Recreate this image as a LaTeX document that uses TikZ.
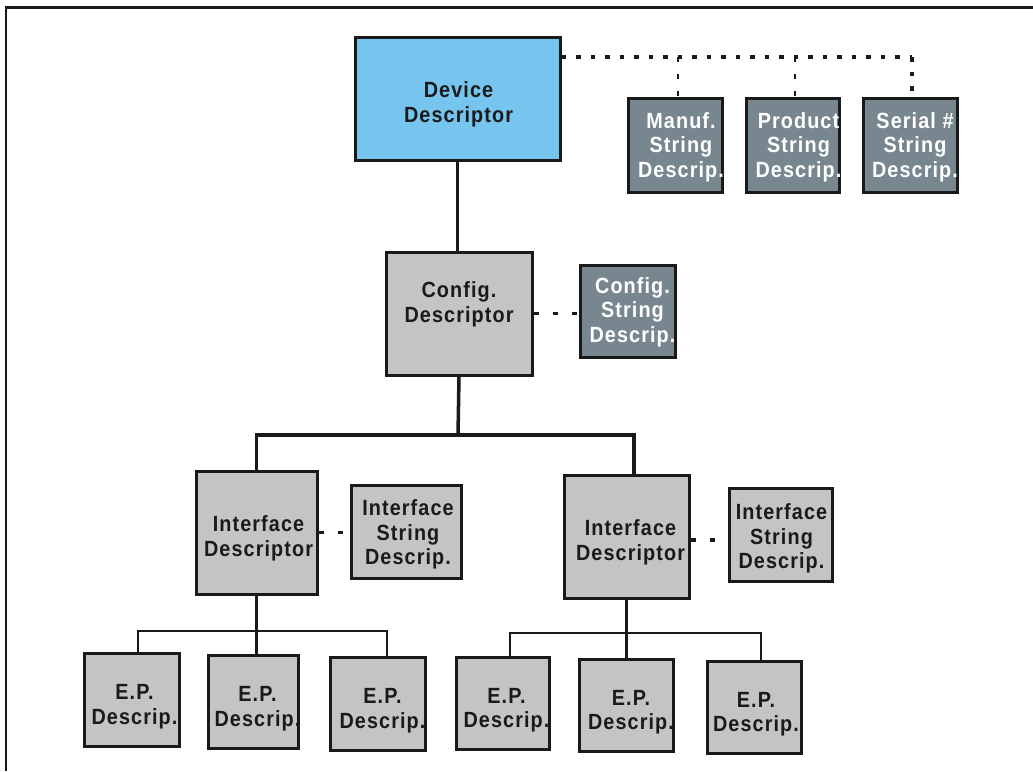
\documentclass[tikz,border=0pt]{standalone}
\usepackage{fontspec}
\setmainfont{Liberation Sans}[LetterSpace=5, FakeStretch=0.9]
\definecolor{devblue}{HTML}{75C5EF}
\definecolor{slate}{HTML}{78878F}
\definecolor{lightgrey}{HTML}{C4C4C4}
\definecolor{ink}{HTML}{1A1A1A}
\newcommand\lblfont{\fontsize{22}{24.5}\selectfont\bfseries}
\tikzset{
  box/.style={draw=ink, line width=3pt, inner sep=0pt, fill=lightgrey},
  devbox/.style={box, fill=devblue},
  strbox/.style={box, fill=slate},
  % caption placed inside a box, with a small offset from its centre
  txt/.style n args={3}{label={[font=\lblfont, text=ink, align=center,
    inner sep=0pt, xshift=#1, yshift=#2]center:#3}},
  wtxt/.style n args={3}{label={[font=\lblfont, text=white, align=center,
    inner sep=0pt, xshift=#1, yshift=#2]center:#3}},
  link/.style={draw=ink, line width=3.5pt},
  thinlink/.style={draw=ink, line width=2.5pt},
  dotbus/.style={draw=ink, line width=4pt, dash pattern=on 4.5pt off 10pt},
  dotdrop/.style={draw=ink, line width=2pt, dash pattern=on 5pt off 12pt},
  dashlink/.style={draw=ink, line width=3.5pt, dash pattern=on 5pt off 14pt},
}
\begin{document}
\begin{tikzpicture}[x=1pt, y=-1pt]
\useasboundingbox (0,0) rectangle (1033,771);
% outer frame (open to the right and bottom)
\draw[ink, line width=2.5pt] (6,771) -- (6,7.5) -- (1033,7.5);

% device level
\node[devbox, minimum width=205pt, minimum height=123pt,
  txt={1pt}{-6pt}{Device\\Descriptor}] (dev) at (457.5,98.5) {};
\node[strbox, minimum width=94pt, minimum height=94pt,
  wtxt={6pt}{-2pt}{Manuf.\\String\\Descrip.}] (manuf) at (675,145) {};
\node[strbox, minimum width=93pt, minimum height=94pt,
  wtxt={6pt}{-2pt}{Product\\String\\Descrip.}] (prod) at (792.5,145) {};
\node[strbox, minimum width=94pt, minimum height=94pt,
  wtxt={5pt}{-2pt}{Serial \#\\String\\Descrip.}] (serial) at (910,145) {};

% configuration level
\node[box, minimum width=146pt, minimum height=123pt,
  txt={0pt}{9pt}{Config.\\Descriptor}] (conf) at (459,313.5) {};
\node[strbox, minimum width=95pt, minimum height=92pt,
  wtxt={5pt}{-1pt}{Config.\\String\\Descrip.}] (confstr) at (627.5,311) {};

% interface level
\node[box, minimum width=121pt, minimum height=123pt,
  txt={2pt}{-6pt}{Interface\\Descriptor}] (ifl) at (256.5,532.5) {};
\node[box, minimum width=110pt, minimum height=93pt,
  txt={2pt}{-3pt}{Interface\\String\\Descrip.}] (ifstrl) at (406,531.5) {};
\node[box, minimum width=125pt, minimum height=123pt,
  txt={4pt}{-6pt}{Interface\\Descriptor}] (ifr) at (626.5,536.5) {};
\node[box, minimum width=103pt, minimum height=93pt,
  txt={1pt}{-4pt}{Interface\\String\\Descrip.}] (ifstrr) at (780.5,534.5) {};

% endpoint level
\node[box, minimum width=95pt, minimum height=93pt,
  txt={3pt}{-7pt}{E.P.\\Descrip.}] (ep1) at (131.5,699.5) {};
\node[box, minimum width=90pt, minimum height=93pt,
  txt={4pt}{-7pt}{E.P.\\Descrip.}] (ep2) at (253.5,701.5) {};
\node[box, minimum width=95pt, minimum height=93pt,
  txt={5pt}{-7pt}{E.P.\\Descrip.}] (ep3) at (377.5,703.5) {};
\node[box, minimum width=93pt, minimum height=92pt,
  txt={4pt}{-7pt}{E.P.\\Descrip.}] (ep4) at (502.5,703) {};
\node[box, minimum width=94pt, minimum height=92pt,
  txt={5pt}{-7pt}{E.P.\\Descrip.}] (ep5) at (626,705) {};
\node[box, minimum width=94pt, minimum height=92pt,
  txt={2pt}{-7pt}{E.P.\\Descrip.}] (ep6) at (754,707) {};

% string descriptor links from the device
\coordinate (j1) at (678,57);
\coordinate (j2) at (795,57);
\coordinate (j3) at (912,57);
\draw[dotbus] (dev.east |- j1) -- (j3);
\draw[dotdrop] (j1) -- (j1 |- manuf.north);
\draw[dotdrop] (j2) -- (j2 |- prod.north);
\draw[dotbus] (j3) -- (j3 |- serial.north);

% device -> configuration
\draw[link] (dev.south) -- (dev.south |- conf.north);
\draw[dashlink] (conf.east) -- (conf.east -| confstr.west);

% configuration -> interfaces
\coordinate (cb) at (458,435);
\coordinate (cbR) at (634,435);
\draw[link] (conf.south) -- (cb);
\draw[link] (ifl.north) -- (ifl.north |- cb) -- (cbR) -- (cbR |- ifr.north);
\draw[dashlink] (ifl.east) -- (ifl.east -| ifstrl.west);
\draw[dashlink] ([yshift=-3.5pt]ifr.east) -- ([yshift=-3.5pt]ifr.east -| ifstrr.west);

% left interface -> endpoints
\coordinate (lbA) at (138,631);
\coordinate (lbB) at (387,631);
\draw[link] (ifl.south) -- (ifl.south |- ep2.north);
\draw[thinlink] (lbA |- ep1.north) -- (lbA) -- (lbB) -- (lbB |- ep3.north);

% right interface -> endpoints
\coordinate (rbA) at (510,633);
\coordinate (rbB) at (761,633);
\draw[link] (ifr.south) -- (ifr.south |- ep5.north);
\draw[thinlink] (rbA |- ep4.north) -- (rbA) -- (rbB) -- (rbB |- ep6.north);
\end{tikzpicture}
\end{document}
